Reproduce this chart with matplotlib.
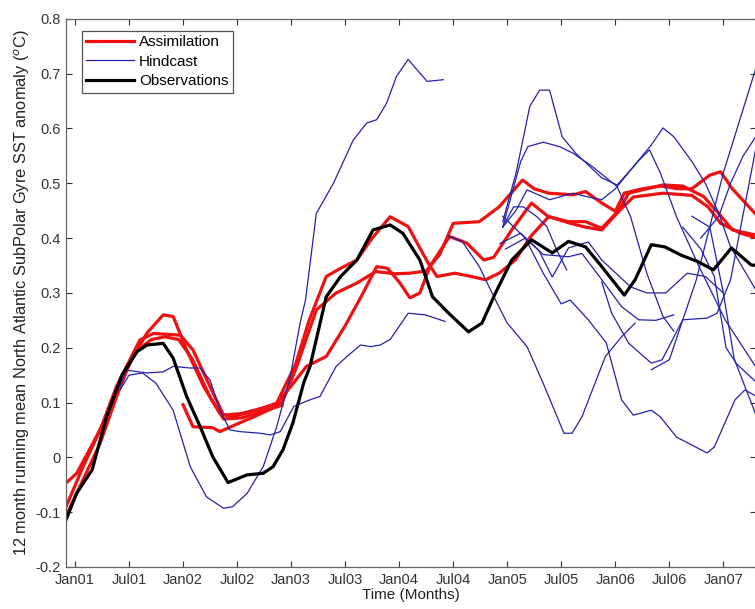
import matplotlib.pyplot as plt

# x axis: month index, 0 = Jan 2001
tick_pos = [0, 6, 12, 18, 24, 30, 36, 42, 48, 54, 60, 66, 72]
tick_labels = ["Jan01", "Jul01", "Jan02", "Jul02", "Jan03", "Jul03", "Jan04",
               "Jul04", "Jan05", "Jul05", "Jan06", "Jul06", "Jan07"]

# observations (black)
obs_m = [-1, 0.2, 1.9, 3.5, 5.2, 6.9, 8.0, 9.8, 10.9, 12.4, 13.9, 15.3, 17.0, 19.1,
         20.9, 22.0, 23.1, 24.2, 25.4, 26.1, 27.9, 29.5, 31.3, 33.1, 35.0, 36.4,
         38.3, 39.7, 41.5, 43.7, 45.2, 46.7, 48.5, 50.7, 53.0, 54.8, 56.7, 58.5,
         61.0, 62.2, 64.0, 65.5, 67.3, 69.2, 70.9, 72.9, 75.1, 75.8]
obs_v = [-0.114, -0.065, -0.023, 0.074, 0.15, 0.193, 0.205, 0.208, 0.181, 0.111,
         0.056, 0.001, -0.046, -0.032, -0.029, -0.017, 0.014, 0.063, 0.136, 0.166,
         0.293, 0.33, 0.36, 0.415, 0.424, 0.409, 0.36, 0.293, 0.263, 0.229, 0.245,
         0.30, 0.36, 0.397, 0.373, 0.394, 0.384, 0.348, 0.296, 0.324, 0.388, 0.384,
         0.369, 0.357, 0.342, 0.382, 0.351, 0.35]

# assimilation runs (red)
assim1_m = [-1, 0.2, 2.0, 3.5, 5, 6.5, 8, 9.8, 10.9, 12.4, 14.3, 16.1, 17.5, 20.2,
            22.4, 24.5, 26, 27.9, 29.5, 31.3, 33, 35, 37, 39.2, 40.2, 42.2, 44,
            45.6, 47.1, 48.9, 50.6, 52.6, 54.8, 56.7, 58.5, 60.4, 61.5, 63.5, 65.3,
            67.5, 69.8, 71.5, 73, 75.8]
assim1_v = [-0.047, -0.029, 0.026, 0.074, 0.136, 0.184, 0.227, 0.26, 0.257, 0.196,
            0.129, 0.08, 0.074, 0.086, 0.099, 0.17, 0.25, 0.33, 0.345, 0.36, 0.40,
            0.439, 0.421, 0.355, 0.33, 0.336, 0.33, 0.324, 0.336, 0.36, 0.403,
            0.439, 0.43, 0.43, 0.418, 0.451, 0.482, 0.49, 0.497, 0.495, 0.476,
            0.445, 0.415, 0.405]
assim2_m = [-1, 0.9, 2.8, 4.6, 7.2, 8.7, 11.7, 13.1, 15, 16.5, 18.5, 21.3, 23,
            24.5, 26.8, 29, 31.3, 33.4, 35.5, 37.2, 39, 40.5, 42, 44.9, 47.1, 49.7,
            51, 52.6, 55.3, 56.7, 58.5, 60, 61, 63, 65, 67, 68.5, 70.5, 71.7, 73,
            75.8]
assim2_v = [-0.09, -0.017, 0.05, 0.129, 0.214, 0.226, 0.223, 0.196, 0.129, 0.077,
            0.08, 0.092, 0.10, 0.16, 0.269, 0.30, 0.318, 0.339, 0.335, 0.336, 0.34,
            0.37, 0.427, 0.43, 0.457, 0.506, 0.49, 0.482, 0.479, 0.485, 0.464,
            0.449, 0.482, 0.49, 0.495, 0.49, 0.49, 0.515, 0.521, 0.49, 0.44]
assim3_m = [-0.8, 0.55, 2.8, 4.6, 6.5, 8.5, 10, 11.5, 13, 15, 16.5, 18.5, 21, 23]
assim3_v = [-0.10, -0.053, 0.026, 0.11, 0.19, 0.215, 0.22, 0.215, 0.18, 0.11,
            0.07, 0.072, 0.085, 0.095]
assim4_m = [12, 13.1, 15.3, 16.1, 18.3, 20, 22, 24, 25.7, 27.9, 30, 32, 33.5, 34.7,
            36, 37.2, 38.3, 39.4, 41.6, 43.5, 45.4, 46.5, 48.5, 50.7, 52.5, 55,
            56.7, 58.5, 60.4, 62, 65.3, 68.5, 70.3, 71.7, 73.9, 75.8]
assim4_v = [0.096, 0.056, 0.054, 0.047, 0.063, 0.075, 0.09, 0.13, 0.166, 0.184,
            0.24, 0.30, 0.348, 0.345, 0.32, 0.291, 0.30, 0.348, 0.403, 0.391, 0.36,
            0.365, 0.415, 0.464, 0.44, 0.427, 0.42, 0.415, 0.449, 0.475, 0.482,
            0.478, 0.457, 0.427, 0.409, 0.40]

# hindcasts (blue)
hind_m = [
    [5, 5.7, 8, 9.8, 10.9, 12.8, 13.9, 15, 16.1, 17.2, 18.3, 20.6, 21.7, 22.8, 24.3,
     26.1, 27.2, 29, 30.2, 31.7, 32.8, 33.9, 35, 37, 38.9, 41.1],
    [5, 6, 7.5, 9, 10.9, 12.8, 14.6, 16.5, 17.5, 19.1, 20.9, 22.4, 23.9, 25, 25.6,
     26.8, 28.7, 30.9, 32.4, 33.5, 34.6, 35.7, 37, 39.1, 40.9],
    [41.5, 43, 44.9, 46.7, 48, 50.2, 52, 54.3, 55.2, 56.3, 58.9, 60.7, 62.2],
    [47.5, 49, 50.5, 51.6, 52.7, 54.1, 55.6, 58.5, 60.2, 62, 64, 65.3, 66.5, 68.5,
     70, 71.5, 72.8, 75.8],
    [47.5, 49.5, 50.3, 52, 53.8, 55.3, 57.5, 60.2, 61.7, 63.5, 65.3, 66.5],
    [47.5, 49, 50.2, 52.7, 55.3, 57, 58.5, 60, 61, 62.5, 63.8, 65, 66.8, 69.3, 72.2,
     75.8],
    [47.5, 48.7, 49.8, 51.3, 52.4, 53.5, 54.6],
    [47.2, 49.5, 51.5, 53, 54.8, 57, 58.5, 61.7, 63.5, 65.6, 68, 70, 72],
    [47.8, 50, 52, 54.8, 56.3, 58.5, 60.7, 62.6, 64.5, 66.5],
    [47.5, 50, 52, 54, 55, 57, 59, 60.7, 62, 64, 65, 66.8, 70.2, 71, 73.3, 74.4, 75.8],
    [64, 66, 67.5, 69, 70.5, 72, 75.8],
    [58.5, 59.6, 61.5, 64, 65.2, 67.5, 70.2, 71.3, 72.8, 75.8],
    [67.5, 69.5, 71, 72.3, 73.5, 75.8],
    [68.5, 70.5, 72, 73.2, 75.8],
    [69.5, 71.5, 72.8, 74.2, 75.8],
]
hind_v = [
    [0.129, 0.159, 0.154, 0.156, 0.166, 0.163, 0.163, 0.141, 0.086, 0.05, 0.047,
     0.044, 0.041, 0.047, 0.093, 0.105, 0.111, 0.166, 0.184, 0.205, 0.202, 0.205,
     0.215, 0.263, 0.26, 0.248],
    [0.123, 0.15, 0.154, 0.135, 0.086, -0.017, -0.072, -0.093, -0.09, -0.066,
     -0.017, 0.056, 0.147, 0.245, 0.287, 0.445, 0.50, 0.579, 0.61, 0.616, 0.646,
     0.695, 0.726, 0.686, 0.689],
    [0.403, 0.394, 0.348, 0.287, 0.245, 0.202, 0.135, 0.044, 0.044, 0.074, 0.184,
     0.22, 0.245],
    [0.43, 0.52, 0.64, 0.67, 0.67, 0.585, 0.555, 0.51, 0.497, 0.53, 0.57, 0.601,
     0.585, 0.54, 0.50, 0.445, 0.384, 0.30],
    [0.42, 0.54, 0.567, 0.575, 0.567, 0.555, 0.53, 0.494, 0.439, 0.336, 0.257,
     0.23],
    [0.42, 0.451, 0.488, 0.47, 0.482, 0.475, 0.47, 0.49, 0.51, 0.54, 0.561, 0.519,
     0.439, 0.348, 0.251, 0.16],
    [0.42, 0.457, 0.457, 0.439, 0.421, 0.378, 0.342],
    [0.39, 0.409, 0.378, 0.329, 0.382, 0.393, 0.36, 0.311, 0.30, 0.30, 0.336, 0.33,
     0.30],
    [0.38, 0.40, 0.37, 0.366, 0.372, 0.324, 0.275, 0.251, 0.25, 0.26],
    [0.44, 0.40, 0.336, 0.28, 0.287, 0.251, 0.209, 0.105, 0.077, 0.086, 0.074,
     0.037, 0.008, 0.019, 0.105, 0.123, 0.11],
    [0.16, 0.178, 0.251, 0.324, 0.421, 0.519, 0.72],
    [0.32, 0.263, 0.208, 0.172, 0.178, 0.251, 0.254, 0.263, 0.324, 0.58],
    [0.42, 0.38, 0.33, 0.20, 0.17, 0.135],
    [0.44, 0.42, 0.30, 0.18, 0.07],
    [0.40, 0.44, 0.50, 0.55, 0.59],
]

plt.rcParams["font.family"] = ["Liberation Sans", "DejaVu Sans"]
fig = plt.figure(figsize=(7.55, 6.09), dpi=100)
ax = fig.add_axes([0.0874, 0.069, 0.9136, 0.9])

red = "#ee1111"
blue = "#2222aa"

for i, (m, v) in enumerate([(assim1_m, assim1_v), (assim2_m, assim2_v),
                            (assim3_m, assim3_v), (assim4_m, assim4_v)]):
    ax.plot(m, v, color=red, lw=2.3, label="Assimilation" if i == 0 else None)
for i in range(len(hind_m)):
    ax.plot(hind_m[i], hind_v[i], color=blue, lw=0.9,
            label="Hindcast" if i == 0 else None)
ax.plot(obs_m, obs_v, color="black", lw=2.3, label="Observations")

ax.set_xlim(-1, 75.6)
ax.set_ylim(-0.2, 0.8)
ax.set_xticks(tick_pos)
ax.set_xticklabels(tick_labels)
ax.set_yticks([-0.2, -0.1, 0, 0.1, 0.2, 0.3, 0.4, 0.5, 0.6, 0.7, 0.8])
ax.set_yticklabels(["-0.2", "-0.1", "0", "0.1", "0.2", "0.3", "0.4", "0.5",
                    "0.6", "0.7", "0.8"])
ax.tick_params(direction="in", top=True, right=True, length=4.5, width=0.8,
               labelsize=10.5, colors="#333333", pad=4)
for s in ax.spines.values():
    s.set_color("#666666")
    s.set_linewidth(0.9)

ax.set_xlabel("Time (Months)", fontsize=11, labelpad=1, color="#222222")
ax.set_ylabel("12 month running mean North Atlantic SubPolar Gyre SST anomaly ($^o$C)",
              fontsize=11.8, labelpad=2, color="#222222")

leg = ax.legend(loc="upper left", bbox_to_anchor=(0.012, 0.992), fontsize=11,
                handlelength=3.1, fancybox=False, framealpha=1,
                borderpad=0.3, labelspacing=0.35, handletextpad=0.35)
leg.get_frame().set_edgecolor("#555555")
leg.get_frame().set_linewidth(0.9)

fig.savefig("out.png", dpi=100)
